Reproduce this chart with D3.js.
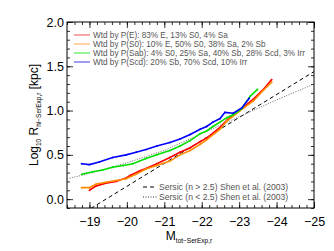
<!DOCTYPE html>
<html>
<head>
<meta charset="utf-8">
<script src="https://cdn.jsdelivr.net/npm/d3@7"></script>
<style>
body { margin: 0; background: #fff; }
text { font-family: "Liberation Sans", Arial, sans-serif; }
</style>
</head>
<body>
<div id="chart"></div>
<script>
//chart values
var redM = [-19.0, -19.18, -19.44, -19.71, -19.98, -20.1, -20.35, -20.51, -20.8, -21.15, -21.42, -21.69, -21.96, -22.13, -22.49, -22.67, -23.03, -23.38, -23.65, -23.87];
var redR = [0.10, 0.15, 0.18, 0.20, 0.24, 0.27, 0.32, 0.345, 0.40, 0.47, 0.53, 0.58, 0.65, 0.69, 0.81, 0.89, 1.01, 1.13, 1.24, 1.35];

var orangeM = [-18.79, -19.0, -19.18, -19.44, -19.71, -19.98, -20.24, -20.51, -20.8, -21.15, -21.42, -21.69, -21.96, -22.13, -22.49, -22.67, -23.03, -23.38, -23.65, -23.87];
var orangeR = [0.13, 0.13, 0.17, 0.19, 0.21, 0.23, 0.28, 0.34, 0.38, 0.43, 0.50, 0.55, 0.62, 0.67, 0.79, 0.88, 1.00, 1.11, 1.23, 1.32];

var greenM = [-18.79, -19.09, -19.35, -19.62, -19.9, -20.16, -20.51, -20.8, -21.15, -21.42, -21.69, -21.96, -22.13, -22.3, -22.49, -22.67, -22.85, -23.07, -23.29, -23.49];
var greenR = [0.28, 0.31, 0.33, 0.36, 0.38, 0.40, 0.46, 0.50, 0.55, 0.60, 0.66, 0.74, 0.77, 0.82, 0.87, 0.92, 0.955, 1.02, 1.16, 1.24];

var blueM = [-18.79, -19.0, -19.26, -19.62, -19.98, -20.25, -20.51, -20.8, -21.15, -21.42, -21.69, -21.96, -22.13, -22.3, -22.49, -22.62, -22.84, -23.07, -23.27];
var blueR = [0.40, 0.39, 0.42, 0.47, 0.50, 0.53, 0.56, 0.60, 0.64, 0.68, 0.73, 0.79, 0.82, 0.87, 0.91, 0.98, 0.97, 1.03, 1.14];

//Shen et al. (2003) relations
var shenEarlyM = [-18.4, -25];
var shenEarlyR = [-0.27, 1.44];
var shenLateM = [-18.4, -19, -20, -21, -22, -23, -24, -25];
var shenLateR = [0.23, 0.29, 0.41, 0.55, 0.74, 0.93, 1.12, 1.30];

var legendLabels = [
    "Wtd by P(E): 83% E, 13% S0, 4% Sa",
    "Wtd by P(S0): 10% E, 50% S0, 38% Sa, 2% Sb",
    "Wtd by P(Sab): 4% S0, 25% Sa, 40% Sb, 28% Scd, 3% Irr",
    "Wtd by P(Scd): 20% Sb, 70% Scd, 10% Irr"
];
var shenLabels = ["Sersic (n > 2.5) Shen et al. (2003)", "Sersic (n < 2.5) Shen et al. (2003)"];

var xTicks = [-19, -20, -21, -22, -23, -24, -25];
var yTicks = [0.0, 0.5, 1.0, 1.5, 2.0];

var svgWidth = 334, svgHeight = 251;
var margin = {top: 22, bottom: 43, left: 67, right: 20};
var chartWidth = svgWidth - margin.left - margin.right;
var chartHeight = svgHeight - margin.top - margin.bottom;

var svg = d3.select('#chart').append('svg')
    .attr('width', svgWidth)
    .attr('height', svgHeight);

var chart = svg.append('g').attr('transform', `translate(${margin.left}, ${margin.top})`);

var x = d3.scaleLinear().domain([-18.4, -25]).range([0, chartWidth]);
var y = d3.scaleLinear().domain([-0.1, 2.0]).range([chartHeight, 0]);

svg.append('clipPath').attr('id', 'clip')
    .append('rect').attr('width', chartWidth).attr('height', chartHeight);

var xMinor = d3.range(-18.4, -25.01, -0.2);
var yMinor = d3.range(-0.1, 2.001, 0.1);

//inward ticks on all four sides
function ticks(axis, values, size) {
    return axis.tickValues(values).tickSize(size).tickFormat('');
}
chart.append('g').attr('transform', `translate(0, ${chartHeight})`).call(ticks(d3.axisBottom(x), xMinor, -3));
chart.append('g').attr('transform', `translate(0, ${chartHeight})`).call(ticks(d3.axisBottom(x), xTicks, -6));
chart.append('g').call(ticks(d3.axisTop(x), xMinor, -3));
chart.append('g').call(ticks(d3.axisTop(x), xTicks, -6));
chart.append('g').call(ticks(d3.axisLeft(y), yMinor, -3));
chart.append('g').call(ticks(d3.axisLeft(y), yTicks, -6));
chart.append('g').attr('transform', `translate(${chartWidth}, 0)`).call(ticks(d3.axisRight(y), yMinor, -3));
chart.append('g').attr('transform', `translate(${chartWidth}, 0)`).call(ticks(d3.axisRight(y), yTicks, -6));
chart.selectAll('.domain').remove();
chart.selectAll('.tick line').attr('stroke', '#000').attr('stroke-width', 0.8);

chart.append('rect')
    .attr('width', chartWidth).attr('height', chartHeight)
    .attr('fill', 'none').attr('stroke', '#000').attr('stroke-width', 1);

//tick labels
chart.append('g').attr('transform', `translate(0, ${chartHeight})`)
    .call(d3.axisBottom(x).tickValues(xTicks).tickSize(0).tickPadding(9).tickFormat(d3.format('d')))
    .call(g => g.select('.domain').remove())
    .selectAll('text').style('font-size', '12.5px').attr('fill', '#000');
chart.append('g')
    .call(d3.axisLeft(y).tickValues(yTicks).tickSize(0).tickPadding(3).tickFormat(d3.format('.1f')))
    .call(g => g.select('.domain').remove())
    .selectAll('text').style('font-size', '12.5px').attr('fill', '#000');

//lines
var plot = chart.append('g').attr('clip-path', 'url(#clip)');
function drawLine(ms, rs, colour, width, dash) {
    var pts = ms.map((m, i) => [m, rs[i]]);
    plot.append('path')
        .datum(pts)
        .attr('d', d3.line().x(d => x(d[0])).y(d => y(d[1])))
        .attr('fill', 'none')
        .attr('stroke', colour)
        .attr('stroke-width', width)
        .attr('stroke-dasharray', dash);
    return pts;
}
drawLine(shenEarlyM, shenEarlyR, '#000', 1, '4,3');
drawLine(shenLateM, shenLateR, '#666', 1, '1,1.5');

var series = [
    [redM, redR, '#ff0000'],
    [orangeM, orangeR, '#ff8c00'],
    [greenM, greenR, '#00e000'],
    [blueM, blueR, '#0000ff']
];
series.forEach(s => {
    var pts = drawLine(s[0], s[1], s[2], 1.6, null);
    plot.selectAll(null).data(pts).enter().append('circle')
        .attr('cx', d => x(d[0])).attr('cy', d => y(d[1]))
        .attr('r', 0.9).attr('fill', s[2]);
});

//legend
var legendColours = ['#f49090', '#ffc890', '#7cf07c', '#8484f4'];
var legend = chart.append('g');
legendLabels.forEach((label, i) => {
    var ly = 13 + i * 9;
    legend.append('line').attr('x1', 7).attr('x2', 23).attr('y1', ly).attr('y2', ly)
        .attr('stroke', legendColours[i]).attr('stroke-width', 1.6);
    legend.append('text').attr('x', 26).attr('y', ly + 2.8)
        .style('font-size', '8.2px').attr('fill', '#555').text(label);
});
shenLabels.forEach((label, i) => {
    var ly = 165 + i * 10;
    legend.append('line').attr('x1', 76).attr('x2', 90).attr('y1', ly).attr('y2', ly)
        .attr('stroke', i == 0 ? '#000' : '#333').attr('stroke-width', 1)
        .attr('stroke-dasharray', i == 0 ? '4,3' : '1,1.5');
    legend.append('text').attr('x', 92).attr('y', ly + 3)
        .style('font-size', '8.6px').attr('fill', '#555').text(label);
});

//axis titles
var yLabel = svg.append('text')
    .attr('transform', 'translate(38, 115) rotate(-90)')
    .attr('text-anchor', 'middle')
    .style('font-size', '12px').attr('fill', '#000');
yLabel.append('tspan').text('Log');
yLabel.append('tspan').attr('dy', 3).style('font-size', '6.5px').text('10');
yLabel.append('tspan').attr('dy', -3).text(' R');
yLabel.append('tspan').attr('dy', 3).style('font-size', '6.5px').text('hl\u2212SerExp,r');
yLabel.append('tspan').attr('dy', -3).text(' [kpc]');

var xLabel = svg.append('text')
    .attr('x', 189).attr('y', 240)
    .attr('text-anchor', 'middle')
    .style('font-size', '12px').attr('fill', '#000');
xLabel.append('tspan').text('M');
xLabel.append('tspan').attr('dy', 3).style('font-size', '6.5px').text('tot\u2212SerExp,r');
</script>
</body>
</html>
